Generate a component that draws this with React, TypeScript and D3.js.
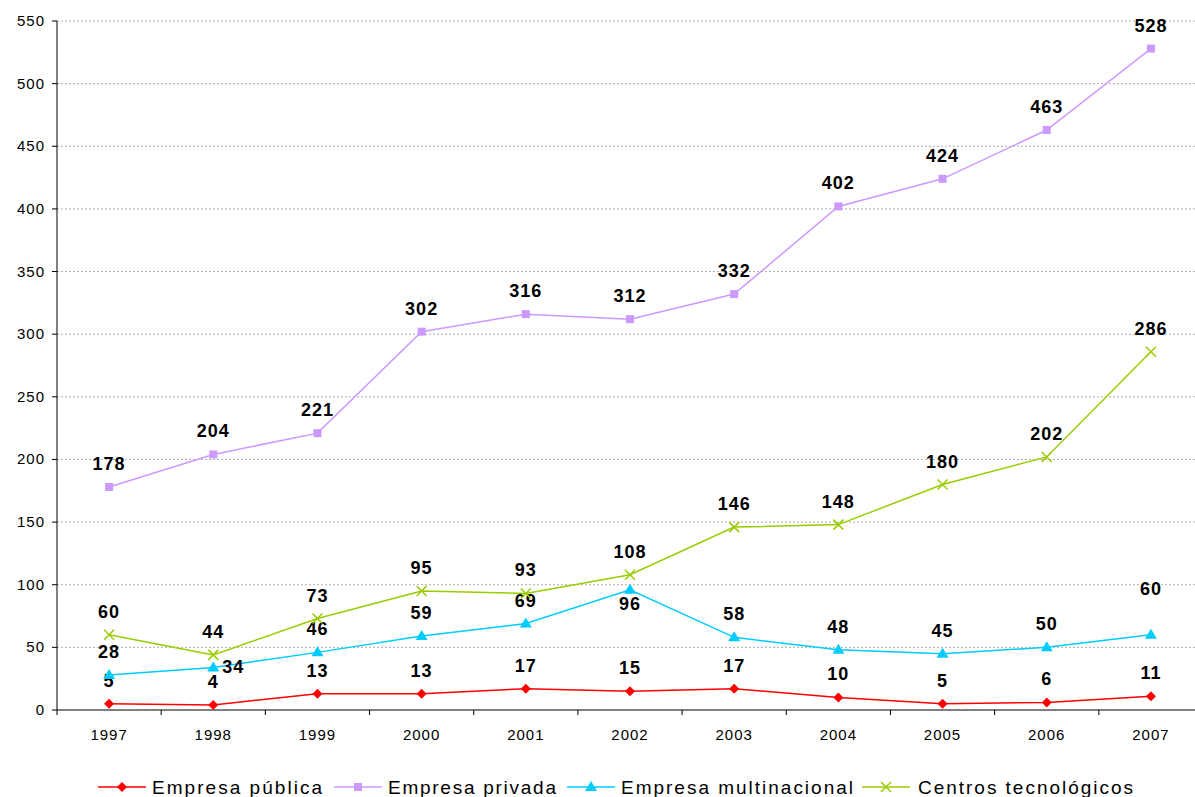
import React from "react";
import * as d3 from "d3";

const years = ["1997","1998","1999","2000","2001","2002","2003","2004","2005","2006","2007"];
const publica = [5,4,13,13,17,15,17,10,5,6,11];
const privada = [178,204,221,302,316,312,332,402,424,463,528];
const multinacional = [28,34,46,59,69,96,58,48,45,50,60];
const centros = [60,44,73,95,93,108,146,148,180,202,286];
const yTicks = [0,50,100,150,200,250,300,350,400,450,500,550];

const series = [
  { name: "Empresa pública", data: publica, color: "#ff0000", marker: "diamond" },
  { name: "Empresa privada", data: privada, color: "#cc99ff", marker: "square" },
  { name: "Empresa multinacional", data: multinacional, color: "#00ccff", marker: "triangle" },
  { name: "Centros tecnológicos", data: centros, color: "#99cc00", marker: "x" },
];

function Marker({ type, x, y, color }: any) {
  if (type === "diamond") return <path d={`M${x},${y-5}L${x+5},${y}L${x},${y+5}L${x-5},${y}Z`} fill={color} />;
  if (type === "square") return <rect x={x-4} y={y-4} width={8} height={8} fill={color} />;
  if (type === "triangle") return <path d={`M${x},${y-6}L${x+6},${y+4}L${x-6},${y+4}Z`} fill={color} />;
  return <path d={`M${x-5},${y-5}L${x+5},${y+5}M${x-5},${y+5}L${x+5},${y-5}`} stroke={color} strokeWidth={1.5} />;
}

export default function App() {
  const left = 57, right = 1203, top = 21, bottom = 710;
  const x = d3.scaleBand().domain(years).range([left, right]);
  const y = d3.scaleLinear().domain([0, 550]).range([bottom, top]);
  const cx = (i: number) => (x(years[i]) as number) + x.bandwidth() / 2;
  const labelPos = (si: number, i: number): [number, number] => {
    if (si === 2 && i === 1) return [20, 6];
    if (si === 2 && i === 5) return [0, 20];
    if (si === 2 && i === 10) return [0, -40];
    return [0, -17];
  };
  const legendItems = [
    { x: 98, tx: 152, tl: 170 }, { x: 334, tx: 388, tl: 168 },
    { x: 567, tx: 621, tl: 232 }, { x: 862, tx: 918, tl: 215 },
  ];
  return (
    <svg width={1195} height={797} style={{ position: "absolute", left: 0, top: 0, fontFamily: "Arial, Liberation Sans, sans-serif" }}>
      <rect width={1195} height={797} fill="#fff" />
      {yTicks.map(t => (
        <g key={t}>
          {t > 0 && <line x1={left} x2={right} y1={y(t)} y2={y(t)} stroke="#999" strokeDasharray="2,2" strokeWidth={0.8} />}
          <line x1={left - 5} x2={left} y1={y(t)} y2={y(t)} stroke="#000" />
          <text x={left - 12} y={y(t) + 5} textAnchor="end" fontSize={15} letterSpacing={1}>{t}</text>
        </g>
      ))}
      <line x1={left} x2={left} y1={top} y2={bottom} stroke="#000" />
      <line x1={left} x2={right} y1={bottom} y2={bottom} stroke="#000" />
      {years.map((yr, i) => (
        <g key={yr}>
          <line x1={x(yr)} x2={x(yr)} y1={bottom} y2={bottom + 5} stroke="#000" />
          <text x={cx(i)} y={bottom + 30} textAnchor="middle" fontSize={15} letterSpacing={1}>{yr}</text>
        </g>
      ))}
      {series.map((s, si) => {
        const line = d3.line<number>().x((_, i) => cx(i)).y(d => y(d));
        return (
          <g key={s.name}>
            <path d={line(s.data) as string} fill="none" stroke={s.color} strokeWidth={1.5} />
            {s.data.map((d, i) => <Marker key={i} type={s.marker} x={cx(i)} y={y(d)} color={s.color} />)}
            {s.data.map((d, i) => {
              const [dx, dy] = labelPos(si, i);
              return <text key={"l" + i} x={cx(i) + dx} y={y(d) + dy} textAnchor="middle" fontSize={18} fontWeight="bold" letterSpacing={1}>{d}</text>;
            })}
          </g>
        );
      })}
      {series.map((s, si) => {
        const it = legendItems[si];
        const ly = 787;
        return (
          <g key={"lg" + si}>
            <line x1={it.x} x2={it.x + 48} y1={ly} y2={ly} stroke={s.color} strokeWidth={1.5} />
            <Marker type={s.marker} x={it.x + 24} y={ly} color={s.color} />
            <text x={it.tx} y={ly + 7} fontSize={19} textLength={it.tl} lengthAdjust="spacing">{s.name}</text>
          </g>
        );
      })}
    </svg>
  );
}
